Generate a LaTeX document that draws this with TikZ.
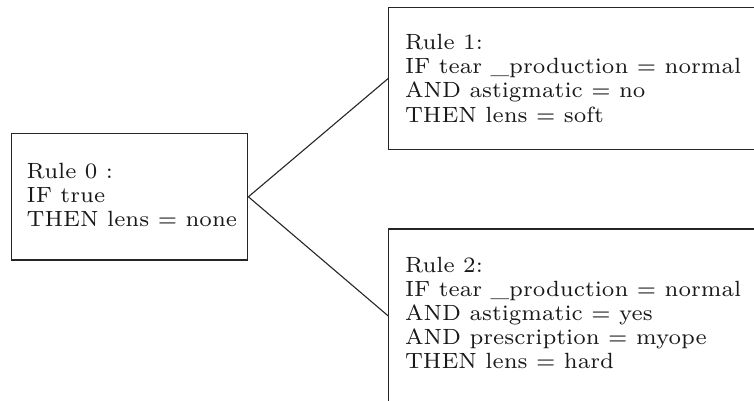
\documentclass[tikz,border=0pt]{standalone}
\usepackage{graphicx}
% rule text: small roman type, enlarged as a block, one \hbox per line
\newcommand\ruletext[1]{\scalebox{3.145}{\fontsize{7}{7.65}\selectfont\vbox{#1}}}
\tikzset{
  rulebox/.style={draw=black!85, line width=1.1pt, rectangle, anchor=west,
    inner sep=0pt},
  ruletxt/.style={anchor=west, inner sep=0pt, text=black!90},
  link/.style={draw=black!85, line width=1.1pt}
}
\begin{document}
\begin{tikzpicture}[x=1pt, y=1pt]
  \useasboundingbox (0,0) rectangle (754,401);
  \clip (0,0) rectangle (754,401);
  % boxes
  \node[rulebox, minimum width=236.8pt, minimum height=126.5pt] (r0) at (10.5,204.2) {};
  \node[rulebox, minimum width=420pt, minimum height=141.8pt] (r1) at (388.3,322.6) {};
  \node[rulebox, minimum width=420pt, minimum height=174pt] (r2) at (388.3,85) {};
  % rule texts
  \node[ruletxt] (t0) at ([xshift=16pt, yshift=2pt]r0.west)
    {\ruletext{\hbox{Rule 0 :}\hbox{IF true}\hbox{THEN lens = none}}};
  \node[ruletxt] (t1) at ([xshift=16.5pt]r1.west)
    {\ruletext{\hbox{Rule 1:}\hbox{IF tear \_production = normal}\hbox{AND astigmatic = no}\hbox{THEN lens = soft}}};
  \node[ruletxt] (t2) at ([xshift=16.5pt, yshift=3pt]r2.west)
    {\ruletext{\hbox{Rule 2:}\hbox{IF tear \_production = normal}\hbox{AND astigmatic = yes}\hbox{AND prescription = myope}\hbox{THEN lens = hard}}};
  % connectors
  \draw[link] (r0.east) -- (r1.west);
  \draw[link] (r0.east) -- (r2.west);
\end{tikzpicture}
\end{document}
